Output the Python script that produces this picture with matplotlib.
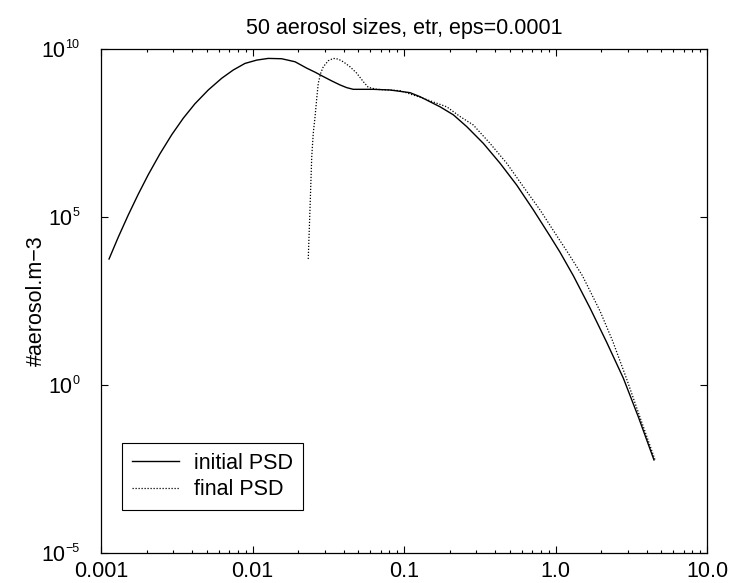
import matplotlib
matplotlib.use("Agg")
import matplotlib.pyplot as plt
import matplotlib.transforms as mtransforms
import numpy as np
from matplotlib.ticker import FixedLocator, LogLocator, NullFormatter, FixedFormatter

plt.rcParams['font.family'] = ['Liberation Sans', 'DejaVu Sans']

# Aerosol diameter (log10) and number concentration (log10) of the two size distributions
init_logd = [-2.947, -2.886, -2.820, -2.754, -2.688, -2.611, -2.533, -2.457, -2.380,
             -2.292, -2.203, -2.127, -2.050, -1.972, -1.896, -1.807, -1.719, -1.642,
             -1.587, -1.533, -1.477, -1.422, -1.378, -1.335, -1.203, -1.092, -0.960,
             -0.894, -0.762, -0.674, -0.586, -0.476, -0.366, -0.256, -0.146, -0.036,
             0.030, 0.118, 0.228, 0.338, 0.448, 0.547, 0.650]
init_logn = [3.75, 4.40, 5.06, 5.68, 6.26, 6.88, 7.45, 7.94, 8.37,
             8.78, 9.13, 9.375, 9.57, 9.67, 9.72, 9.71, 9.62, 9.43,
             9.31, 9.18, 9.05, 8.93, 8.85, 8.80, 8.80, 8.78, 8.70,
             8.58, 8.28, 8.04, 7.69, 7.19, 6.60, 5.95, 5.21, 4.43,
             3.95, 3.25, 2.29, 1.27, 0.20, -0.95, -2.23]

final_logd = [-1.632, -1.620, -1.609, -1.599, -1.587, -1.576, -1.566, -1.550, -1.533,
              -1.500, -1.467, -1.434, -1.401, -1.356, -1.312, -1.269, -1.236, -1.180,
              -1.026, -0.872, -0.718, -0.630, -0.543, -0.432, -0.322, -0.212, -0.102,
              0.010, 0.083, 0.178, 0.294, 0.378, 0.468, 0.557, 0.657]
final_logn = [3.75, 5.31, 6.79, 7.49, 7.99, 8.53, 8.98, 9.28, 9.47,
              9.65, 9.72, 9.70, 9.62, 9.47, 9.28, 9.03, 8.86, 8.80,
              8.76, 8.53, 8.28, 7.99, 7.74, 7.19, 6.60, 5.90, 5.21,
              4.43, 3.93, 3.25, 2.20, 1.30, 0.20, -0.95, -2.23]

xtick_vals = [0.001, 0.01, 0.1, 1.0, 10.0]
xtick_labels = ["0.001", "0.01", "0.1", "1.0", "10.0"]
ytick_exps = [-5, 0, 5, 10]

fig = plt.figure(figsize=(7.31, 5.83), dpi=100)
ax = fig.add_axes([101/731, 1 - 553/583, 606/731, 504/583])

ax.plot(10**np.array(init_logd), 10**np.array(init_logn), color='black', lw=1.0,
        label='initial PSD')
ax.plot(10**np.array(final_logd), 10**np.array(final_logn), color='black', lw=0.9,
        linestyle=(0, (1, 1.4)), label='final PSD')

ax.set_xscale('log')
ax.set_yscale('log')
ax.set_xlim(1e-3, 10)
ax.set_ylim(1e-5, 1e10)

ax.xaxis.set_major_locator(FixedLocator(xtick_vals))
ax.xaxis.set_major_formatter(FixedFormatter(xtick_labels))
ax.xaxis.set_minor_locator(LogLocator(base=10, subs=np.arange(2, 10), numticks=20))
ax.xaxis.set_minor_formatter(NullFormatter())
ax.yaxis.set_major_locator(FixedLocator([10.0**e for e in ytick_exps]))
ax.yaxis.set_major_formatter(NullFormatter())
ax.yaxis.set_minor_locator(FixedLocator([]))

ax.tick_params(which='both', direction='in', top=True, right=True, labelsize=15.5,
               width=0.8, color='black')
ax.tick_params(which='major', length=5)
ax.tick_params(which='minor', length=2.5)
ax.tick_params(axis='x', which='major', pad=5.5)
for s in ax.spines.values():
    s.set_linewidth(0.9)

# Power-of-ten labels on the y axis: base "10" with a small raised exponent
ytrans = mtransforms.blended_transform_factory(ax.transAxes, ax.transData)
shift = mtransforms.ScaledTranslation(-22 / 100, 1.5 / 100, fig.dpi_scale_trans)
for e in ytick_exps:
    exp_str = str(e).replace('-', '\u2212')
    exp_txt = ax.text(0, 10.0**e, exp_str, transform=ytrans + shift, ha='right',
                      va='baseline', fontsize=9, clip_on=False)
    ax.annotate("10", xy=(0, 10.0**e), xycoords=(exp_txt, ax.transData),
                xytext=(0.2, -1.5), textcoords='offset points', ha='right',
                va='center', fontsize=15.5, annotation_clip=False)

ax.set_title("50 aerosol sizes, etr, eps=0.0001", fontsize=15.5, pad=11)
ax.set_ylabel("#aerosol.m\u22123", fontsize=15.5)
ax.yaxis.set_label_coords(-0.09, 0.5)

leg = ax.legend(loc='lower left', bbox_to_anchor=(0.0347, 0.0853), borderaxespad=0,
                fontsize=15.5, fancybox=False, framealpha=1, edgecolor='black',
                handlelength=2.2, handletextpad=0.7, labelspacing=0.25,
                borderpad=0.45)
leg.get_frame().set_linewidth(0.8)

fig.savefig("out.png", dpi=100)
